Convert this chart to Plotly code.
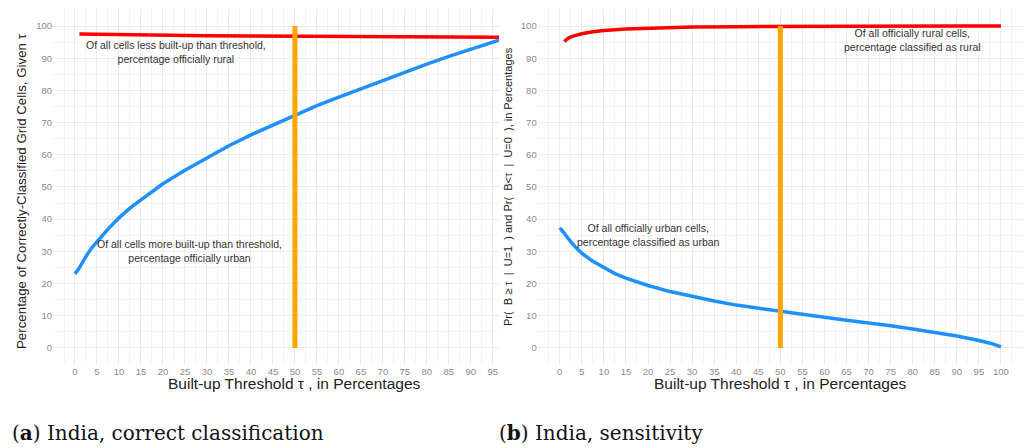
import plotly.graph_objects as go

# ---------------- data ----------------
# Panel (a): India, correct classification
a_blue_x = [0, 0.5, 1, 1.5, 2, 3, 4, 5, 7.5, 10, 12.5, 15, 20, 25, 30, 35, 40, 45, 50, 55, 60, 65, 70, 75, 80, 85, 90, 96.4]
a_blue_y = [23.0, 23.8, 24.9, 26.1, 27.3, 29.5, 31.4, 33.0, 36.9, 40.4, 43.4, 46.0, 51.0, 55.2, 59.0, 62.8, 66.2, 69.3, 72.4, 75.3, 77.9, 80.5, 83.1, 85.7, 88.2, 90.6, 92.9, 95.6]
a_red_x = [1, 10, 20, 30, 40, 50, 60, 70, 80, 90, 96.4]
a_red_y = [97.5, 97.3, 97.1, 97.0, 96.9, 96.8, 96.7, 96.7, 96.6, 96.55, 96.5]

# Panel (b): India, sensitivity
b_blue_x = [0, 0.5, 1, 1.5, 2, 3, 4, 5, 7.5, 10, 12.5, 15, 20, 25, 30, 35, 40, 45, 50, 55, 60, 65, 70, 75, 80, 85, 90, 95, 98, 100]
b_blue_y = [37.3, 36.6, 35.7, 34.7, 33.8, 32.2, 30.7, 29.4, 26.9, 24.9, 23.1, 21.7, 19.4, 17.5, 16.0, 14.6, 13.3, 12.3, 11.3, 10.4, 9.5, 8.6, 7.8, 6.9, 5.9, 4.8, 3.7, 2.3, 1.3, 0.3]
b_red_x = [1, 1.5, 2, 3, 4, 5, 7.5, 10, 15, 20, 25, 30, 40, 50, 60, 70, 80, 90, 100]
b_red_y = [95.2, 95.8, 96.3, 96.9, 97.3, 97.6, 98.2, 98.6, 99.1, 99.35, 99.55, 99.7, 99.82, 99.9, 99.95, 99.97, 99.98, 99.99, 100.0]

threshold_x = [50, 50]
threshold_y = [0, 100]

x_ticks_a = list(range(0, 100, 5))
x_ticks_b = list(range(0, 105, 5))
y_ticks = list(range(0, 110, 10))

ann_a_top = "Of all cells less built-up than threshold,<br>percentage officially rural"
ann_a_bot = "Of all cells more built-up than threshold,<br>percentage officially urban"
ann_b_top = "Of all officially rural cells,<br>percentage classified as rural"
ann_b_bot = "Of all officially urban cells,<br>percentage classified as urban"

NB = "\u00a0"
xtitle = "Built-up Threshold \u03c4 , in Percentages"
ytitle_a = "Percentage of Correctly-Classified Grid Cells, Given \u03c4"
ytitle_b = ("Pr(" + NB * 2 + "B \u2265 \u03c4" + NB * 2 + "|" + NB * 2 + "U=1" + NB * 2 + ") and Pr(" + NB * 2 +
            "B<\u03c4" + NB * 2 + "|" + NB * 2 + "U=0" + NB * 2 + "), in Percentages")
cap_a = "(<b>a</b>) India, correct classification"
cap_b = "(<b>b</b>) India, sensitivity"

# ---------------- layout helpers ----------------
W, H = 1025, 448
def px(x):
    return x / W
def py(y):
    return 1 - y / H

RED = "#FF0000"
BLUE = "#1E90FF"
ORANGE = "#FFA500"
GRID = "#EBEBEB"
MINOR = "#F3F3F3"

fig = go.Figure()
fig.add_trace(go.Scatter(x=a_red_x, y=a_red_y, mode="lines", line=dict(color=RED, width=3.5),
                         xaxis="x", yaxis="y", showlegend=False))
fig.add_trace(go.Scatter(x=a_blue_x, y=a_blue_y, mode="lines", line=dict(color=BLUE, width=3.5),
                         xaxis="x", yaxis="y", showlegend=False))
fig.add_trace(go.Scatter(x=threshold_x, y=threshold_y, mode="lines", line=dict(color=ORANGE, width=5),
                         xaxis="x", yaxis="y", showlegend=False))
fig.add_trace(go.Scatter(x=b_red_x, y=b_red_y, mode="lines", line=dict(color=RED, width=3.5),
                         xaxis="x2", yaxis="y2", showlegend=False))
fig.add_trace(go.Scatter(x=b_blue_x, y=b_blue_y, mode="lines", line=dict(color=BLUE, width=3.5),
                         xaxis="x2", yaxis="y2", showlegend=False))
fig.add_trace(go.Scatter(x=threshold_x, y=threshold_y, mode="lines", line=dict(color=ORANGE, width=5),
                         xaxis="x2", yaxis="y2", showlegend=False))

tickfont = dict(family="Liberation Sans, Arial, sans-serif", size=9.5, color="#8A8A8A")

def xaxis_cfg(domain, rng, ticks, anchor):
    return dict(domain=domain, range=rng, tickmode="array", tickvals=ticks, ticktext=[str(t) for t in ticks],
                showgrid=True, gridcolor=GRID, gridwidth=1, zeroline=False, showline=False,
                ticks="", tickfont=tickfont, anchor=anchor,
                minor=dict(dtick=2.5, tick0=0, showgrid=True, gridcolor=MINOR, gridwidth=1))

def yaxis_cfg(domain, anchor):
    return dict(domain=domain, range=[-5, 105.3], tickmode="array", tickvals=y_ticks,
                ticktext=[str(t) for t in y_ticks],
                showgrid=True, gridcolor=GRID, gridwidth=1, zeroline=False, showline=False,
                ticks="", tickfont=tickfont, anchor=anchor,
                minor=dict(dtick=5, tick0=0, showgrid=True, gridcolor=MINOR, gridwidth=1))

ydom = [py(364), py(9)]
fig.update_layout(
    width=W, height=H, margin=dict(l=0, r=0, t=0, b=0),
    paper_bgcolor="white", plot_bgcolor="white",
    xaxis=xaxis_cfg([px(53), px(499)], [-5, 96.4], x_ticks_a, "y"),
    yaxis=yaxis_cfg(ydom, "x"),
    xaxis2=xaxis_cfg([px(537.7), px(1023)], [-5, 105], x_ticks_b, "y2"),
    yaxis2=yaxis_cfg(ydom, "x2"),
    font=dict(family="Liberation Sans, Arial, sans-serif"),
)

annfont = dict(family="Liberation Sans, Arial, sans-serif", size=10.5, color="#333333")
titlefont = dict(family="Liberation Sans, Arial, sans-serif", size=15.5, color="#222222")
capfont = dict(family="DejaVu Serif, Liberation Serif, serif", size=20, color="#111111")

anns = [
    dict(text=ann_a_top, x=23, y=92, xref="x", yref="y", showarrow=False, font=annfont),
    dict(text=ann_a_bot, x=26, y=30, xref="x", yref="y", showarrow=False, font=annfont),
    dict(text=ann_b_top, x=80, y=95.8, xref="x2", yref="y2", showarrow=False, font=annfont),
    dict(text=ann_b_bot, x=20, y=35, xref="x2", yref="y2", showarrow=False, font=annfont),
    dict(text=xtitle, x=50, y=py(383), xref="x", yref="paper", showarrow=False, font=titlefont,
         xanchor="center", yanchor="middle"),
    dict(text=xtitle, x=50, y=py(383), xref="x2", yref="paper", showarrow=False, font=titlefont,
         xanchor="center", yanchor="middle"),
    dict(text=ytitle_a, x=px(21), y=py(191), xref="paper", yref="paper", showarrow=False, textangle=-90,
         font=dict(family="Liberation Sans, Arial, sans-serif", size=13.3, color="#222222"),
         xanchor="center", yanchor="middle"),
    dict(text=ytitle_b, x=px(508), y=py(187), xref="paper", yref="paper", showarrow=False, textangle=-90,
         font=dict(family="Liberation Sans, Arial, sans-serif", size=11, color="#222222"),
         xanchor="center", yanchor="middle"),
    dict(text=cap_a, x=px(10), y=py(433), xref="paper", yref="paper", showarrow=False, font=capfont,
         xanchor="left", yanchor="middle"),
    dict(text=cap_b, x=px(497), y=py(433), xref="paper", yref="paper", showarrow=False, font=capfont,
         xanchor="left", yanchor="middle"),
]
fig.update_layout(annotations=anns)

fig.write_html("out.html")
